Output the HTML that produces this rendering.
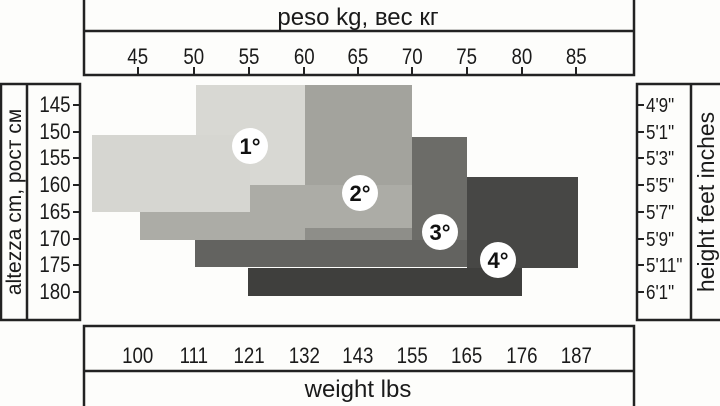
<!DOCTYPE html>
<html><head><meta charset="utf-8"><style>
html,body{margin:0;padding:0;background:#fff;}
svg{display:block;font-family:"Liberation Sans","DejaVu Sans",sans-serif;}
</style></head><body>
<svg width="720" height="406" viewBox="0 0 720 406">
<rect width="720" height="406" fill="#fdfdfb"/>
<g stroke="#222" stroke-width="2.5" fill="none">
<rect x="84" y="-5" width="550" height="80"/>
<line x1="84" y1="31" x2="634" y2="31"/>
<rect x="1" y="84" width="79" height="236"/>
<line x1="27" y1="84" x2="27" y2="320"/>
<rect x="637" y="84" width="85" height="236"/>
<line x1="691" y1="84" x2="691" y2="320"/>
<rect x="84" y="326" width="550" height="85"/>
<line x1="84" y1="371" x2="634" y2="371"/>
</g>
<g stroke="#222" stroke-width="2">
<line x1="138" y1="67" x2="138" y2="75"/><line x1="194" y1="67" x2="194" y2="75"/>
<line x1="249" y1="67" x2="249" y2="75"/><line x1="304" y1="67" x2="304" y2="75"/>
<line x1="358" y1="67" x2="358" y2="75"/><line x1="412" y1="67" x2="412" y2="75"/>
<line x1="467" y1="67" x2="467" y2="75"/><line x1="522" y1="67" x2="522" y2="75"/>
<line x1="576" y1="67" x2="576" y2="75"/>
<line x1="73" y1="105" x2="80" y2="105"/><line x1="73" y1="132" x2="80" y2="132"/>
<line x1="73" y1="158" x2="80" y2="158"/><line x1="73" y1="185" x2="80" y2="185"/>
<line x1="73" y1="212" x2="80" y2="212"/><line x1="73" y1="239" x2="80" y2="239"/>
<line x1="73" y1="265" x2="80" y2="265"/><line x1="73" y1="292" x2="80" y2="292"/>
<line x1="637" y1="105" x2="644" y2="105"/><line x1="637" y1="132" x2="644" y2="132"/>
<line x1="637" y1="158" x2="644" y2="158"/><line x1="637" y1="185" x2="644" y2="185"/>
<line x1="637" y1="212" x2="644" y2="212"/><line x1="637" y1="239" x2="644" y2="239"/>
<line x1="637" y1="265" x2="644" y2="265"/><line x1="637" y1="292" x2="644" y2="292"/>
</g>
<g fill="#1a1a1a">
<text x="358" y="25" text-anchor="middle" font-size="24">peso kg, вес кг</text>
<g text-anchor="middle" font-size="22" transform="scale(0.85,1)">
<text x="162" y="64">45</text><text x="228" y="64">50</text><text x="293" y="64">55</text>
<text x="358" y="64">60</text><text x="421" y="64">65</text><text x="485" y="64">70</text>
<text x="549" y="64">75</text><text x="614" y="64">80</text><text x="678" y="64">85</text>
<text x="162" y="363">100</text><text x="228" y="363">111</text><text x="293" y="363">121</text>
<text x="358" y="363">132</text><text x="421" y="363">143</text><text x="485" y="363">155</text>
<text x="549" y="363">165</text><text x="614" y="363">176</text><text x="678" y="363">187</text>
</g>
<text x="358" y="397" text-anchor="middle" font-size="24">weight lbs</text>
<g text-anchor="end" font-size="22" transform="scale(0.85,1)">
<text x="83" y="112">145</text><text x="83" y="139">150</text><text x="83" y="165">155</text>
<text x="83" y="192">160</text><text x="83" y="219">165</text><text x="83" y="246">170</text>
<text x="83" y="272">175</text><text x="83" y="299">180</text>
</g>
<g font-size="20" transform="scale(0.85,1)">
<text x="760" y="112">4'9"</text><text x="760" y="139">5'1"</text><text x="760" y="165">5'3"</text>
<text x="760" y="192">5'5"</text><text x="760" y="219">5'7"</text><text x="760" y="246">5'9"</text>
<text x="760" y="272">5'11"</text><text x="760" y="299">6'1"</text>
</g>
<text transform="translate(21,202) rotate(-90)" text-anchor="middle" font-size="21">altezza cm, рост см</text>
<text transform="translate(714,202) rotate(-90)" text-anchor="middle" font-size="23">height feet inches</text>
</g>
<!-- shapes -->
<rect x="467" y="177" width="111" height="91" fill="#474745"/>
<rect x="248" y="268" width="274" height="28" fill="#3f3f3d"/>
<rect x="412" y="137" width="55" height="118" fill="#6c6c68"/>
<rect x="195" y="240" width="272" height="27" fill="#636360"/>
<rect x="305" y="85" width="107" height="143" fill="#a3a39d"/>
<rect x="140" y="185" width="272" height="55" fill="#acaca6"/>
<rect x="305" y="228" width="107" height="12" fill="#8e8e89"/>
<rect x="196" y="85" width="109" height="100" fill="#d8d8d3"/>
<rect x="92" y="135" width="158" height="77" fill="#d6d6d1"/>
<g fill="#fff">
<circle cx="250" cy="146" r="18"/><circle cx="360" cy="193" r="18"/>
<circle cx="440" cy="232" r="18"/><circle cx="498" cy="260" r="18"/>
</g>
<g font-size="22" font-weight="bold" text-anchor="middle" fill="#111">
<text x="250" y="154">1°</text><text x="360" y="201">2°</text>
<text x="440" y="240">3°</text><text x="498" y="268">4°</text>
</g>
</svg>
</body></html>
